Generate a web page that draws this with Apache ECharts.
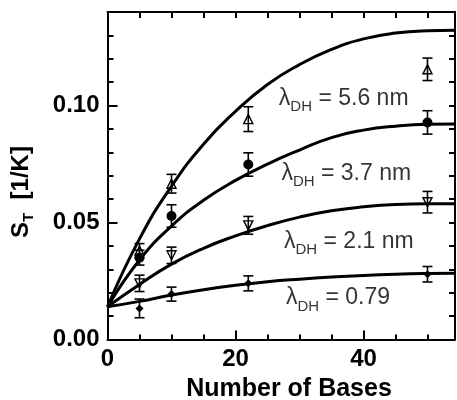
<!DOCTYPE html>
<html>
<head>
<meta charset="utf-8">
<script src="https://cdn.jsdelivr.net/npm/echarts@6/dist/echarts.min.js"></script>
<style>
html, body { margin: 0; padding: 0; background: #fff; }
#main { width: 457px; height: 400px; }
</style>
</head>
<body>
<div id="main"></div>
<script>
// fit curves
var curveX = [0, 5, 10, 15, 20, 25, 30, 35, 40, 45, 50, 54.3];
var fit56 = [0.014, 0.043, 0.0655, 0.0835, 0.0975, 0.109, 0.1175, 0.124, 0.1285, 0.131, 0.132, 0.1322];
var fit37 = [0.014, 0.034, 0.0485, 0.0595, 0.068, 0.075, 0.081, 0.0863, 0.0895, 0.0912, 0.092, 0.0921];
var fit21 = [0.014, 0.0235, 0.0322, 0.039, 0.0443, 0.0487, 0.0523, 0.055, 0.0567, 0.0577, 0.058, 0.058];
var fit079 = [0.014, 0.0163, 0.019, 0.0213, 0.0232, 0.0247, 0.0258, 0.0267, 0.0274, 0.0279, 0.0282, 0.0283];

// measured points with error bars
var bases = [5, 10, 22, 50];
var st56 = [0.038, 0.0666, 0.0942, 0.1155];
var err56 = [0.003, 0.004, 0.0053, 0.0048];
var st37 = [0.035, 0.0528, 0.0748, 0.0928];
var err37 = [0.0032, 0.0048, 0.005, 0.005];
var st21 = [0.024, 0.036, 0.0488, 0.0587];
var err21 = [0.0035, 0.0035, 0.0038, 0.0046];
var st079 = [0.0133, 0.0194, 0.024, 0.0279];
var err079 = [0.004, 0.003, 0.0032, 0.0033];

// curve labels
var labelText = ['5.6 nm', '3.7 nm', '2.1 nm', '0.79'];
var labelX = [26.7, 27.1, 27.5, 27.8];
var labelY = [0.1029, 0.0709, 0.0420, 0.0177];

var X_MAX = 54.3, Y_MAX = 0.14;
var FONT = 'Liberation Sans, Arial, Helvetica, sans-serif';

var chart = echarts.init(document.getElementById('main'));

function fitSeries(ys) {
    return {
        type: 'line',
        data: curveX.map(function (x, i) { return [x, ys[i]]; }),
        smooth: true,
        symbol: 'none',
        lineStyle: { color: '#000', width: 3 },
        z: 3,
        silent: true
    };
}

function errorSeries(ys, errs) {
    return {
        type: 'custom',
        z: 5,
        silent: true,
        encode: { x: 0, y: [1, 2] },
        data: bases.map(function (x, i) { return [x, ys[i] - errs[i], ys[i] + errs[i]]; }),
        renderItem: function (params, api) {
            var lo = api.coord([api.value(0), api.value(1)]);
            var hi = api.coord([api.value(0), api.value(2)]);
            var w = 5;
            var st = { stroke: '#000', lineWidth: 1.6 };
            return {
                type: 'group',
                children: [
                    { type: 'line', shape: { x1: lo[0], y1: lo[1], x2: hi[0], y2: hi[1] }, style: st },
                    { type: 'line', shape: { x1: lo[0] - w, y1: lo[1], x2: lo[0] + w, y2: lo[1] }, style: st },
                    { type: 'line', shape: { x1: hi[0] - w, y1: hi[1], x2: hi[0] + w, y2: hi[1] }, style: st }
                ]
            };
        }
    };
}

function pointSeries(ys, symbol, open, size, rotate) {
    return {
        type: 'scatter',
        data: bases.map(function (x, i) { return [x, ys[i]]; }),
        symbol: symbol,
        symbolSize: size,
        symbolRotate: rotate || 0,
        itemStyle: open
            ? { color: 'rgba(0,0,0,0)', borderColor: '#000', borderWidth: 1.4, opacity: 1 }
            : { color: '#000', opacity: 1 },
        z: 4,
        silent: true
    };
}

var tickStyle = { color: '#000', width: 2 };

function minorAxis(pos, interval, len, showLine) {
    return {
        type: 'value',
        position: pos,
        min: 0,
        max: pos === 'top' || pos === 'bottom' ? X_MAX : Y_MAX,
        interval: interval,
        axisLine: { show: showLine, onZero: false, lineStyle: tickStyle },
        axisTick: { show: true, inside: true, length: len, lineStyle: tickStyle },
        axisLabel: { show: false },
        splitLine: { show: false }
    };
}

var option = {
    animation: false,
    backgroundColor: '#fff',
    grid: { left: 107.5, right: 2, top: 12, bottom: 60.5, outerBoundsMode: 'none' },
    xAxis: [
        {
            type: 'value', position: 'bottom', min: 0, max: X_MAX, interval: 20,
            axisLine: { show: true, onZero: false, lineStyle: tickStyle },
            axisTick: { show: true, inside: true, length: 9, lineStyle: tickStyle },
            axisLabel: { margin: 8, color: '#000', fontSize: 24, fontWeight: 'bold', fontFamily: FONT, showMaxLabel: false },
            splitLine: { show: false }
        },
        minorAxis('bottom', 5, 5, false),
        minorAxis('top', 5, 6, true)
    ],
    yAxis: [
        {
            type: 'value', position: 'left', min: 0, max: Y_MAX, interval: 0.05,
            axisLine: { show: true, onZero: false, lineStyle: tickStyle },
            axisTick: { show: true, inside: true, length: 10, lineStyle: tickStyle },
            axisLabel: {
                margin: 8, color: '#000', fontSize: 24, fontWeight: 'bold', fontFamily: FONT, showMaxLabel: false,
                formatter: function (v) { return v.toFixed(2); }
            },
            splitLine: { show: false }
        },
        minorAxis('left', 0.01, 6, false),
        minorAxis('right', 0.01, 6, true)
    ],
    graphic: [
        {
            type: 'text', x: 289, y: 389,
            style: { text: 'Number of Bases', font: 'bold 25px ' + FONT, fill: '#000', align: 'center', verticalAlign: 'middle' }
        },
        {
            type: 'text', x: 21, y: 192, rotation: Math.PI / 2,
            style: {
                text: '{a|S}{b|T}{a|  [1/K]}',
                align: 'center', verticalAlign: 'middle',
                rich: {
                    a: { font: 'bold 24px ' + FONT, fill: '#000', lineHeight: 30 },
                    b: { font: 'bold 15px ' + FONT, fill: '#000', lineHeight: 15, verticalAlign: 'bottom' }
                }
            }
        }
    ],
    series: [
        fitSeries(fit56), fitSeries(fit37), fitSeries(fit21), fitSeries(fit079),
        errorSeries(st56, err56), errorSeries(st37, err37), errorSeries(st21, err21), errorSeries(st079, err079),
        pointSeries(st56, 'triangle', true, 9),
        pointSeries(st37, 'circle', false, 10),
        pointSeries(st21, 'triangle', true, 9, 180),
        pointSeries(st079, 'diamond', false, 8),
        {
            type: 'scatter',
            symbolSize: 1,
            itemStyle: { color: 'rgba(0,0,0,0)' },
            silent: true,
            z: 6,
            data: labelText.map(function (t, i) { return { value: [labelX[i], labelY[i]], name: t }; }),
            label: {
                show: true,
                position: 'right',
                distance: 0,
                formatter: function (p) { return '{l|λ}{s|DH}{t| = ' + p.name + '}'; },
                rich: {
                    l: { fontSize: 23, fontFamily: FONT, color: '#000', lineHeight: 32 },
                    s: { fontSize: 15, fontFamily: FONT, color: '#000', lineHeight: 15, verticalAlign: 'bottom' },
                    t: { fontSize: 23, fontFamily: FONT, color: '#000', lineHeight: 32 }
                }
            }
        }
    ]
};

chart.setOption(option);
</script>
</body>
</html>
